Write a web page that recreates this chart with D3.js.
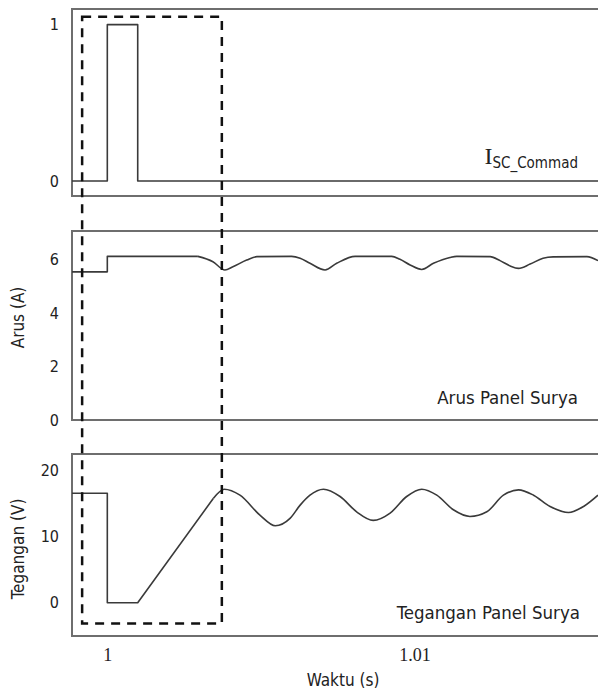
<!DOCTYPE html>
<html>
<head>
<meta charset="utf-8">
<script src="https://cdn.jsdelivr.net/npm/d3@7"></script>
<style>
  body { margin: 0; background: #fff; }
</style>
</head>
<body>
<div id="plot"></div>
<script>
// Time axis (s)
var xDomain = [0.99885, 1.01598];
var xTicks = [1, 1.01];

// I_SC command pulse
var cmdTime = [0.99885, 1.0, 1.0, 1.00099, 1.00099, 1.01598];
var cmdVal  = [0, 0, 1, 1, 0, 0];
var cmdTicks = [0, 1];

// Arus panel surya (A): step part, then ripple part
var iStepTime = [0.99885, 1.0, 1.0, 1.00295];
var iStepVal  = [5.55, 5.55, 6.13, 6.13];
var iWaveTime = [1.00295, 1.00344, 1.00383, 1.00409, 1.00454, 1.00487, 1.00600, 1.00628,
                 1.00660, 1.00709, 1.00747, 1.00807, 1.00926, 1.00953, 1.00986, 1.01024,
                 1.01062, 1.01116, 1.01138, 1.01247, 1.01279, 1.01312, 1.01339, 1.01377,
                 1.01419, 1.01452, 1.01562, 1.01598];
var iWaveVal  = [6.13, 5.93, 5.62, 5.74, 5.99, 6.12, 6.13, 6.06,
                 5.87, 5.62, 5.87, 6.13, 6.13, 6.02, 5.81, 5.64,
                 5.87, 6.09, 6.13, 6.12, 5.97, 5.77, 5.68, 5.84,
                 6.06, 6.11, 6.12, 5.97];
var iTicks = [0, 2, 4, 6];

// Tegangan panel surya (V): step + ramp, then oscillation
var vStepTime = [0.99885, 1.0, 1.0, 1.00099, 1.00345];
var vStepVal  = [16.5, 16.5, 0, 0, 15.7];
var vWaveTime = [1.00345, 1.00381, 1.00432, 1.00497, 1.00547, 1.00595, 1.00628,
                 1.00660, 1.00704, 1.00758, 1.00812, 1.00866, 1.00921, 1.00975, 1.01024,
                 1.01073, 1.01127, 1.01181, 1.01236, 1.01290, 1.01339, 1.01388, 1.01442,
                 1.01502, 1.01551, 1.01598];
var vWaveVal  = [15.7, 17.1, 16.2, 13.2, 11.6, 12.7, 14.7,
                 16.2, 17.1, 16.0, 13.7, 12.4, 13.5, 16.0, 17.1,
                 16.2, 14.0, 13.0, 13.7, 16.2, 17.0, 16.2, 14.5,
                 13.6, 14.5, 16.2];
var vTicks = [0, 10, 20];

// Dashed highlight box: time span, top (command units), bottom (volt units)
var boxTime = [0.99918, 1.00373];
var boxTopCmd = 1.05;
var boxBottomVolt = -3.1;

var width = 598, height = 691;
var frameLeft = 72, frameRight = 606;
var sansFont = "'DejaVu Sans Condensed', 'DejaVu Sans', sans-serif";
var serifFont = "'Liberation Serif', 'DejaVu Serif', serif";

var svg = d3.select("#plot").append("svg")
    .attr("width", width)
    .attr("height", height)
    .style("font-family", sansFont);

var x = d3.scaleLinear().domain(xDomain).range([frameLeft, 598]);

var yCmd = d3.scaleLinear().domain([-0.096, 1.10]).range([196, 9]);
var yCur = d3.scaleLinear().domain([0, 7.08]).range([420, 231]);
var yVolt = d3.scaleLinear().domain([-5.0, 22.4]).range([636, 454]);

var panels = [
  {y: yCmd, ticks: cmdTicks},
  {y: yCur, ticks: iTicks},
  {y: yVolt, ticks: vTicks}
];

panels.forEach(function(p) {
  var r = p.y.range();
  svg.append("rect")
      .attr("x", frameLeft)
      .attr("y", r[1])
      .attr("width", frameRight - frameLeft)
      .attr("height", r[0] - r[1])
      .attr("fill", "none")
      .attr("stroke", "#6e6e6e")
      .attr("stroke-width", 2);

  var ax = svg.append("g")
      .attr("transform", "translate(" + frameLeft + ",0)")
      .call(d3.axisLeft(p.y).tickValues(p.ticks).tickSize(0).tickPadding(13).tickFormat(d3.format("d")));
  ax.select(".domain").remove();
  ax.selectAll("text")
      .attr("fill", "#222")
      .style("font-family", sansFont)
      .style("font-size", "16px");
});

// x axis labels (serif)
var xa = svg.append("g")
    .attr("transform", "translate(0," + yVolt.range()[0] + ")")
    .call(d3.axisBottom(x).tickValues(xTicks).tickSize(0).tickPadding(12).tickFormat(function(d) { return d3.format("")(d); }));
xa.select(".domain").remove();
xa.selectAll("text")
    .attr("fill", "#222")
    .style("font-family", serifFont)
    .style("font-size", "18px");

function drawLine(times, vals, y, curve) {
  var pts = times.map(function(t, i) { return [t, vals[i]]; });
  var line = d3.line()
      .x(function(d) { return x(d[0]); })
      .y(function(d) { return y(d[1]); })
      .curve(curve);
  svg.append("path")
      .datum(pts)
      .attr("d", line)
      .attr("fill", "none")
      .attr("stroke", "#3a3a3a")
      .attr("stroke-width", 1.6)
      .attr("stroke-linejoin", "round");
}

drawLine(cmdTime, cmdVal, yCmd, d3.curveLinear);
drawLine(iStepTime, iStepVal, yCur, d3.curveLinear);
drawLine(iWaveTime, iWaveVal, yCur, d3.curveMonotoneX);
drawLine(vStepTime, vStepVal, yVolt, d3.curveLinear);
drawLine(vWaveTime, vWaveVal, yVolt, d3.curveMonotoneX);

// Dashed box
var bx0 = x(boxTime[0]), bx1 = x(boxTime[1]);
var by0 = yCmd(boxTopCmd), by1 = yVolt(boxBottomVolt);
svg.append("path")
    .attr("d", "M" + bx0 + "," + by0 + "H" + bx1 + "V" + by1 + "H" + bx0 + "Z")
    .attr("fill", "none")
    .attr("stroke", "#111")
    .attr("stroke-width", 2.5)
    .attr("stroke-dasharray", "9,7");

// Axis titles
svg.append("text")
    .attr("transform", "translate(24," + ((yCur.range()[0] + yCur.range()[1]) / 2 - 8) + ") rotate(-90)")
    .attr("text-anchor", "middle")
    .attr("fill", "#222")
    .style("font-size", "17px")
    .text("Arus (A)");

svg.append("text")
    .attr("transform", "translate(24," + ((yVolt.range()[0] + yVolt.range()[1]) / 2 + 4) + ") rotate(-90)")
    .attr("text-anchor", "middle")
    .attr("fill", "#222")
    .style("font-size", "17px")
    .text("Tegangan (V)");

svg.append("text")
    .attr("x", 343)
    .attr("y", 686)
    .attr("text-anchor", "middle")
    .attr("fill", "#222")
    .style("font-size", "17px")
    .text("Waktu (s)");

// Panel labels
var isc = svg.append("text")
    .attr("x", 578)
    .attr("y", 164)
    .attr("text-anchor", "end")
    .attr("fill", "#222");
isc.append("tspan")
    .style("font-family", serifFont)
    .style("font-size", "24px")
    .text("I");
isc.append("tspan")
    .attr("dy", 4)
    .style("font-size", "15px")
    .text("SC_Commad");

svg.append("text")
    .attr("x", 578)
    .attr("y", 404)
    .attr("text-anchor", "end")
    .attr("fill", "#222")
    .style("font-size", "18.5px")
    .text("Arus Panel Surya");

svg.append("text")
    .attr("x", 580)
    .attr("y", 619)
    .attr("text-anchor", "end")
    .attr("fill", "#222")
    .style("font-size", "18.5px")
    .text("Tegangan Panel Surya");
</script>
</body>
</html>
